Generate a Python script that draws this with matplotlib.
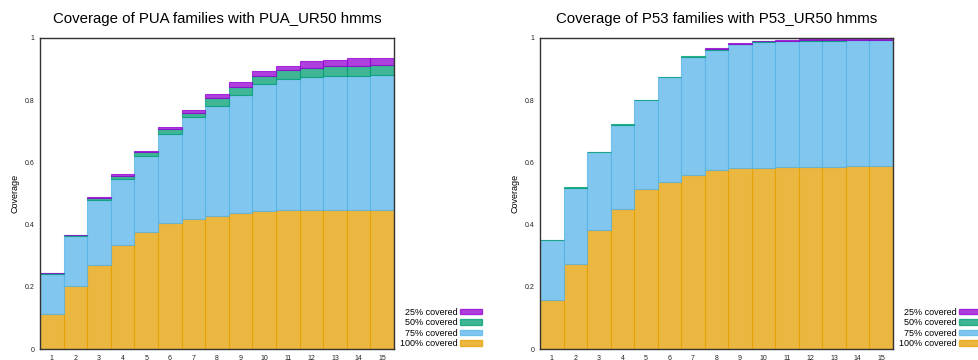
import numpy as np
import matplotlib
matplotlib.use("Agg")
import matplotlib.pyplot as plt
from matplotlib.patches import Patch

plt.rcParams['font.family'] = ['Liberation Sans', 'DejaVu Sans']

n_hmms = list(range(1, 16))
labels = ['100% covered', '75% covered', '50% covered', '25% covered']
colors = ['#E69F00', '#56B4E9', '#009E73', '#9400D3']

# cumulative fraction of families covered at least X%
pua_100 = [0.111, 0.204, 0.270, 0.336, 0.376, 0.405, 0.419, 0.429, 0.436, 0.444, 0.446, 0.448, 0.448, 0.448, 0.448]
pua_75 = [0.240, 0.363, 0.479, 0.547, 0.621, 0.691, 0.745, 0.782, 0.818, 0.851, 0.867, 0.874, 0.878, 0.879, 0.881]
pua_50 = [0.243, 0.366, 0.485, 0.557, 0.633, 0.706, 0.760, 0.806, 0.844, 0.879, 0.896, 0.903, 0.910, 0.910, 0.912]
pua_25 = [0.244, 0.368, 0.489, 0.564, 0.638, 0.713, 0.767, 0.819, 0.857, 0.893, 0.909, 0.925, 0.930, 0.935, 0.935]

p53_100 = [0.157, 0.273, 0.384, 0.451, 0.513, 0.538, 0.561, 0.574, 0.581, 0.583, 0.584, 0.585, 0.585, 0.588, 0.588]
p53_75 = [0.350, 0.518, 0.634, 0.721, 0.800, 0.875, 0.939, 0.963, 0.980, 0.987, 0.989, 0.991, 0.991, 0.992, 0.992]
p53_50 = [0.351, 0.520, 0.635, 0.722, 0.801, 0.876, 0.941, 0.966, 0.982, 0.989, 0.991, 0.993, 0.993, 0.994, 0.994]
p53_25 = [0.351, 0.520, 0.635, 0.722, 0.801, 0.876, 0.941, 0.968, 0.983, 0.991, 0.992, 0.996, 0.996, 0.997, 0.997]

panels = [
    ('Coverage of PUA families with PUA_UR50 hmms', [pua_100, pua_75, pua_50, pua_25]),
    ('Coverage of P53 families with P53_UR50 hmms', [p53_100, p53_75, p53_50, p53_25]),
]

W, H = 979, 360
fig = plt.figure(figsize=(W / 100, H / 100), dpi=100)

axes_px = [(40, 38, 394, 349), (540, 38, 893, 349)]
legend_right = [482, 981]

for (title, levels), (x0, y0, x1, y1), lr in zip(panels, axes_px, legend_right):
    ax = fig.add_axes([x0 / W, 1 - y1 / H, (x1 - x0) / W, (y1 - y0) / H])
    bottom = np.zeros(len(n_hmms))
    handles = []
    for lev, lab, col in zip(levels, labels, colors):
        lev = np.array(lev)
        h = lev - bottom
        lw = np.where(h > 1e-9, 0.8, 0.0)
        ax.bar(n_hmms, h, bottom=bottom, width=1.0,
               color=col, alpha=0.75, edgecolor=col, linewidth=lw)
        bottom = lev
        handles.append(Patch(facecolor=col, edgecolor=col, alpha=0.75, label=lab))
    ax.set_xlim(0.5, 15.5)
    ax.set_ylim(0, 1)
    ax.set_xticks(n_hmms)
    ax.set_yticks([0, 0.2, 0.4, 0.6, 0.8, 1])
    ax.set_yticklabels(['0', '0.2', '0.4', '0.6', '0.8', '1'])
    ax.tick_params(labelsize=5, length=0, pad=4, colors='#222222')
    for s in ax.spines.values():
        s.set_color('#333333')
        s.set_linewidth(1.0)
    ax.set_ylabel('Coverage', fontsize=6.5, labelpad=4)
    ax.set_title(title, fontsize=10.8, pad=11)
    ax.legend(handles[::-1], labels[::-1], loc='lower right',
              bbox_to_anchor=(lr / W, 1 - 348 / H), bbox_transform=fig.transFigure,
              markerfirst=False, frameon=False, fontsize=6.5,
              handlelength=2.4, handleheight=0.55, handletextpad=0.3,
              labelspacing=0.15, borderpad=0, borderaxespad=0)

fig.savefig('out.png', dpi=100)
